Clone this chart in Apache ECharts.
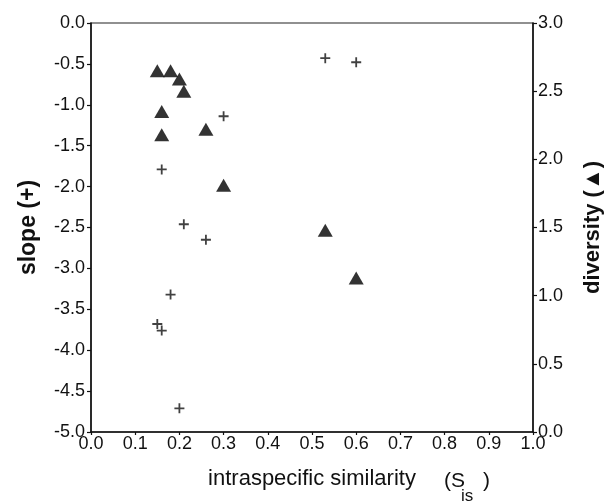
<!DOCTYPE html>
<html>
<head>
<meta charset="utf-8">
<script src="https://cdn.jsdelivr.net/npm/echarts@6/dist/echarts.min.js"></script>
<style>html,body{margin:0;padding:0;background:#fff}#c{width:612px;height:503px}</style>
</head>
<body>
<div id="c"></div>
<script>
// similarity values (x) shared by both series
var similarity = [0.15, 0.18, 0.20, 0.21, 0.16, 0.16, 0.26, 0.30, 0.53, 0.60];
// slope (+), left axis
var slope      = [-3.68, -3.32, -4.71, -2.46, -1.79, -3.76, -2.65, -1.14, -0.43, -0.48];
// diversity (triangle), right axis
var diversity  = [2.65, 2.65, 2.59, 2.50, 2.35, 2.18, 2.22, 1.81, 1.48, 1.13];

var FONT = 'Liberation Sans, Arial, sans-serif';
var crossPath = 'path://M4.1,0H5.9V4.1H10V5.9H5.9V10H4.1V5.9H0V4.1H4.1Z';

function pairs(xs, ys){ return xs.map(function(x,i){ return [x, ys[i]]; }); }
function fmt(v){ return v.toFixed(1); }

var chart = echarts.init(document.getElementById('c'), null, {renderer:'canvas'});
var axisText = {color:'#111', fontFamily: FONT, fontSize: 18};
chart.setOption({
  animation: false,
  backgroundColor: '#fff',
  grid: {left: 91, right: 79, top: 23, bottom: 71, show: true, borderColor: '#222', borderWidth: 1.2},
  xAxis: {
    type: 'value', min: 0, max: 1, interval: 0.1,
    axisLine: {show: true, onZero: false, lineStyle: {color: '#111', width: 1.5}},
    axisTick: {show: true, length: 3, lineStyle: {color: '#111', width: 1.2}},
    splitLine: {show: false},
    axisLabel: Object.assign({formatter: fmt, margin: 3}, axisText),
    name: 'intraspecific similarity',
    nameLocation: 'middle', nameGap: 36,
    nameTextStyle: {color: '#111', fontFamily: FONT, fontSize: 22}
  },
  yAxis: [{
    type: 'value', min: -5, max: 0, interval: 0.5, position: 'left',
    axisLine: {show: true, onZero: false, lineStyle: {color: '#111', width: 1.5}},
    axisTick: {show: true, length: 4, lineStyle: {color: '#111', width: 1.2}},
    splitLine: {show: false},
    axisLabel: Object.assign({formatter: fmt, margin: 6}, axisText),
    name: 'slope (+)', nameLocation: 'middle', nameGap: 51, nameRotate: 90,
    nameTextStyle: {color: '#111', fontFamily: FONT, fontSize: 23, fontWeight: 'bold'}
  }, {
    type: 'value', min: 0, max: 3, interval: 0.5, position: 'right',
    axisLine: {show: true, onZero: false, lineStyle: {color: '#111', width: 1.5}},
    axisTick: {show: true, length: 4, lineStyle: {color: '#111', width: 1.2}},
    splitLine: {show: false},
    axisLabel: Object.assign({formatter: fmt, margin: 5}, axisText),
    name: 'diversity (\u25B2)', nameLocation: 'middle', nameGap: 49, nameRotate: 90,
    nameTextStyle: {color: '#111', fontFamily: FONT, fontSize: 22, fontWeight: 'bold'}
  }],
  series: [{
    type: 'scatter', yAxisIndex: 0, data: pairs(similarity, slope),
    symbol: crossPath, symbolSize: 10, itemStyle: {color: '#111'}
  }, {
    type: 'scatter', yAxisIndex: 1, data: pairs(similarity, diversity),
    symbol: 'triangle', symbolSize: [15, 13], itemStyle: {color: '#000'}
  }],
  graphic: [
    {type: 'text', left: 444, top: 471, style: {text: '(S', fill: '#111', font: '21px ' + FONT}},
    {type: 'text', left: 461, top: 488, style: {text: 'is', fill: '#111', font: '17px ' + FONT}},
    {type: 'text', left: 483, top: 471, style: {text: ')', fill: '#111', font: '21px ' + FONT}}
  ]
});
</script>
</body>
</html>
